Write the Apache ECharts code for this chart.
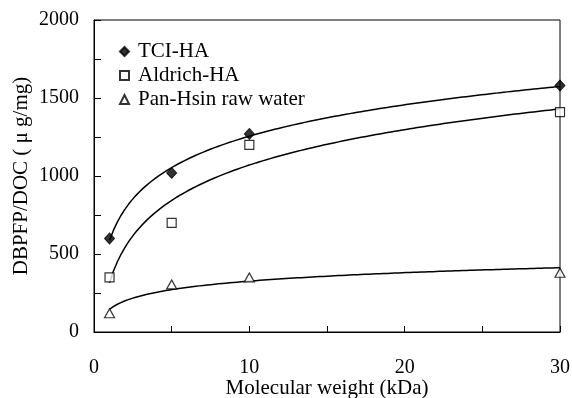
<!DOCTYPE html>
<html><head><meta charset="utf-8">
<script src="https://cdn.jsdelivr.net/npm/echarts@6/dist/echarts.min.js"></script>
<style>html,body{margin:0;padding:0;background:#fff}#c{width:572px;height:398px}</style>
</head><body><div id="c"></div>
<script>
// Data
var molecularWeight = [1, 5, 10, 30];            // kDa
var tciHA = [600, 1020, 1270, 1580];
var aldrichHA = [350, 700, 1200, 1410];
var panHsin = [120, 305, 350, 380];
var seriesNames = ['TCI-HA', 'Aldrich-HA', 'Pan-Hsin raw water'];
var xTickLabels = ['0', '10', '20', '30'];
var yTickLabels = ['0', '500', '1000', '1500', '2000'];

// Logarithmic trendline (least squares, y = a + b ln x) fitted to each data set
function logFit(xs, ys) {
  var n = xs.length, lx = xs.map(Math.log);
  var mx = lx.reduce(function(s, v){return s + v;}, 0) / n;
  var my = ys.reduce(function(s, v){return s + v;}, 0) / n;
  var sxy = 0, sxx = 0;
  for (var i = 0; i < n; i++) { sxy += (lx[i]-mx)*(ys[i]-my); sxx += (lx[i]-mx)*(lx[i]-mx); }
  var b = sxy / sxx, a = my - b * mx;
  var pts = [];
  var x0 = xs[0], x1 = xs[n-1], steps = 120;
  for (var k = 0; k <= steps; k++) {
    var x = x0 + (x1 - x0) * k / steps;
    pts.push([x, a + b * Math.log(x)]);
  }
  return pts;
}
function pairs(ys) { return molecularWeight.map(function(x, i){ return [x, ys[i]]; }); }

var font = '"Liberation Serif", "Times New Roman", serif';
var fs = 21, tfs = 20;
var chart = echarts.init(document.getElementById('c'));
var lineStyle = {color: '#000', width: 1.5};
chart.setOption({
  animation: false,
  backgroundColor: '#fff',
  textStyle: {fontFamily: font, color: '#000'},
  grid: {left: 94, right: 12, top: 20, bottom: 66, show: true, borderColor: '#000', borderWidth: 1,
    containLabel: false, outerBoundsMode: 'none'},
  legend: {
    orient: 'vertical', left: 114, top: 36, itemWidth: 9, itemHeight: 9, itemGap: 3,
    data: [{name: seriesNames[0], icon: 'diamond'}, {name: seriesNames[1], icon: 'rect'}, {name: seriesNames[2], icon: 'triangle'}],
    textStyle: {fontFamily: font, fontSize: fs, color: '#000', padding: [0, 0, 0, 4]}
  },
  xAxis: {
    type: 'value', min: 0, max: 30, interval: 10,
    name: 'Molecular weight (kDa)', nameLocation: 'middle', nameGap: 46, nameMoveOverlap: false,
    nameTextStyle: {fontFamily: font, fontSize: fs, color: '#000'},
    axisLine: {lineStyle: {color: '#000', width: 1}},
    axisTick: {inside: true, length: 6, lineStyle: {color: '#000'}},
    minorTick: {show: true, splitNumber: 2, length: 6, lineStyle: {color: '#000'}},
    splitLine: {show: false},
    axisLabel: {margin: 26, fontFamily: font, fontSize: tfs, color: '#000',
      formatter: function(v){ var i = xTickLabels.indexOf(String(v)); return i >= 0 ? xTickLabels[i] : ''; }}
  },
  yAxis: {
    type: 'value', min: 0, max: 2000, interval: 500,
    name: 'DBPFP/DOC ( \u03bc g/mg)', nameLocation: 'middle', nameGap: 62, nameMoveOverlap: false,
    nameTextStyle: {fontFamily: font, fontSize: fs, color: '#000'},
    axisLine: {show: true, lineStyle: {color: '#000', width: 1}},
    axisTick: {show: true, inside: true, length: 7, lineStyle: {color: '#000'}},
    minorTick: {show: true, splitNumber: 2, length: 7, lineStyle: {color: '#000'}},
    splitLine: {show: false},
    axisLabel: {margin: 15, fontFamily: font, fontSize: tfs, color: '#000',
      formatter: function(v){ var i = yTickLabels.indexOf(String(v)); return i >= 0 ? yTickLabels[i] : ''; }}
  },
  series: [
    {name: 'TCI-HA fit', type: 'line', data: logFit(molecularWeight, tciHA), showSymbol: false, lineStyle: lineStyle, silent: true, z: 1},
    {name: 'Aldrich-HA fit', type: 'line', data: logFit(molecularWeight, aldrichHA), showSymbol: false, lineStyle: lineStyle, silent: true, z: 1},
    {name: 'Pan-Hsin fit', type: 'line', data: logFit(molecularWeight, panHsin), showSymbol: false, lineStyle: lineStyle, silent: true, z: 1},
    {name: seriesNames[0], type: 'scatter', symbol: 'diamond', symbolSize: [10, 11], data: pairs(tciHA),
      itemStyle: {color: '#000', borderColor: '#000', borderWidth: 1}, z: 3, clip: false},
    {name: seriesNames[1], type: 'scatter', symbol: 'rect', symbolSize: 9, data: pairs(aldrichHA),
      itemStyle: {color: '#fff', borderColor: '#000', borderWidth: 1.2}, z: 3, clip: false},
    {name: seriesNames[2], type: 'scatter', symbol: 'triangle', symbolSize: [10, 9], data: pairs(panHsin),
      itemStyle: {color: '#fff', borderColor: '#000', borderWidth: 1.2}, z: 3, clip: false}
  ]
});
</script></body></html>
